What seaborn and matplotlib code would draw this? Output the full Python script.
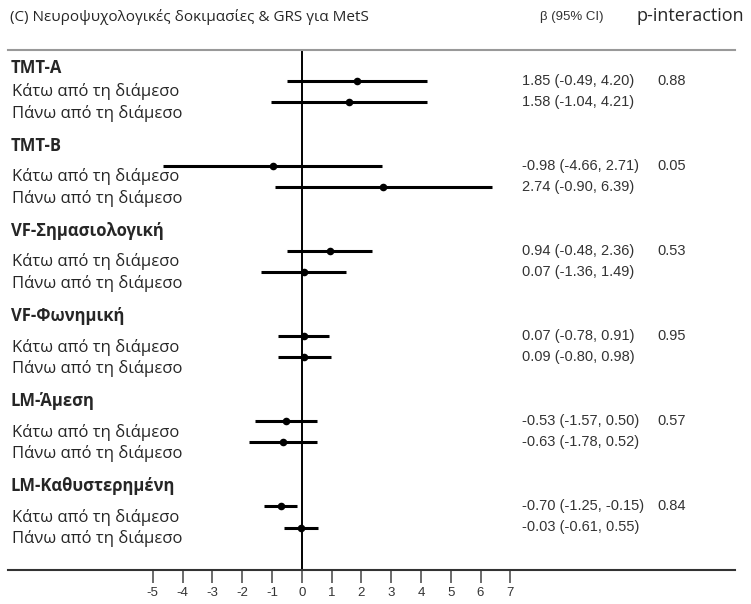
import numpy as np
import pandas as pd
import seaborn as sns
import matplotlib.pyplot as plt

# data
tests = ['TMT-A', 'TMT-B', 'VF-Σημασιολογική', 'VF-Φωνημική', 'LM-Άμεση', 'LM-Καθυστερημένη']
groups = ['Κάτω από τη διάμεσο', 'Πάνω από τη διάμεσο']
beta_below = [1.85, -0.98, 0.94, 0.07, -0.53, -0.70]
low_below = [-0.49, -4.66, -0.48, -0.78, -1.57, -1.25]
high_below = [4.20, 2.71, 2.36, 0.91, 0.50, -0.15]
beta_above = [1.58, 2.74, 0.07, 0.09, -0.63, -0.03]
low_above = [-1.04, -0.90, -1.36, -0.80, -1.78, -0.61]
high_above = [4.21, 6.39, 1.49, 0.98, 0.52, 0.55]
p_interaction = ['0.88', '0.05', '0.53', '0.95', '0.57', '0.84']
x_ticks = [-5, -4, -3, -2, -1, 0, 1, 2, 3, 4, 5, 6, 7]

sns.set_style('white')
plt.rcParams['font.family'] = ['Open Sans', 'DejaVu Sans']

# build a long table, one row per estimate
rows = []
for g, test in enumerate(tests):
    y1 = 30.7 + 85.1 * g   # layout: vertical slot of the group
    rows.append(dict(test=test, group=groups[0], beta=beta_below[g], lo=low_below[g],
                     hi=high_below[g], y=y1, first=True, p=p_interaction[g]))
    rows.append(dict(test=test, group=groups[1], beta=beta_above[g], lo=low_above[g],
                     hi=high_above[g], y=y1 + 21.3, first=False, p=p_interaction[g]))
df = pd.DataFrame(rows)

fig = plt.figure(figsize=(7.51, 6.04), dpi=100)
ax = fig.add_axes([8 / 751, 34 / 604, 727 / 751, 520 / 604])

ax.hlines(df['y'], df['lo'], df['hi'], color='black', lw=2.2, zorder=2)
sns.scatterplot(data=df, x='beta', y='y', color='black', s=30, edgecolor='black',
                linewidth=0, zorder=3, ax=ax, legend=False)
ax.axvline(0, color='black', lw=1.4, zorder=1)

ax.set_xlim(-9.856, 14.54)
ax.set_ylim(520, 0)
ax.set_xticks(x_ticks)
ax.set_xticklabels([str(t) for t in x_ticks], family='Liberation Sans', fontsize=9.5, color='#333333')
ax.tick_params(axis='x', direction='out', length=9, width=1.1, color='#444444', pad=3, bottom=True)
ax.set_yticks([])
ax.set_xlabel('')
ax.set_ylabel('')
for side in ['left', 'right']:
    ax.spines[side].set_visible(False)
ax.spines['bottom'].set_color('#333333')
ax.spines['bottom'].set_linewidth(1.5)
ax.spines['top'].set_color('#999999')
ax.spines['top'].set_linewidth(1.5)

# left column text and right column numbers
lbl = ax.get_yaxis_transform()
for g, test in enumerate(tests):
    sub = df[df['test'] == test]
    y1 = sub['y'].iloc[0]
    hdr_off = 13 if g == 0 else 20
    ax.text(3 / 727, y1 - hdr_off, test, transform=lbl, fontsize=12,
            fontweight='bold', va='center', ha='left')
    for _, r in sub.iterrows():
        ax.text(4 / 727, r['y'] + 11, r['group'], transform=lbl, fontsize=12,
                va='center', ha='left')
        ax.text((522 - 8) / 727, r['y'], f"{r['beta']:.2f} ({r['lo']:.2f}, {r['hi']:.2f})",
                transform=lbl, fontsize=10.5, family='Liberation Sans', color='#333333',
                va='center', ha='left')
        if r['first']:
            ax.text((657 - 8) / 727, r['y'], r['p'], transform=lbl, fontsize=10.5,
                    family='Liberation Sans', color='#333333', va='center', ha='left')

fig.text(10 / 751, 1 - 17 / 604, '(C) Νευροψυχολογικές δοκιμασίες & GRS για MetS',
         fontsize=11, va='center', ha='left')
fig.text(540 / 751, 1 - 17 / 604, 'β (95% CI)', fontsize=9.5, family='Liberation Sans',
         color='#333333', va='center', ha='left')
fig.text(637 / 751, 1 - 16 / 604, 'p-interaction', fontsize=13, va='center', ha='left')

fig.savefig('out.png', dpi=100)
